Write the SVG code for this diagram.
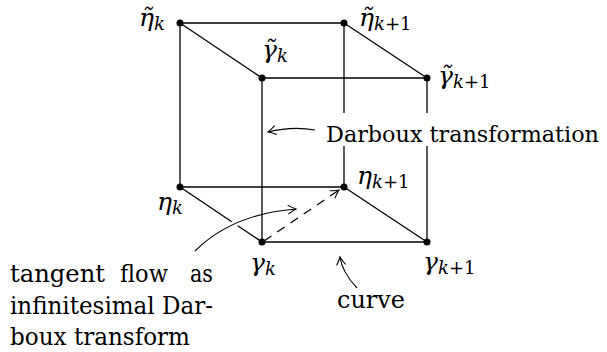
<svg xmlns="http://www.w3.org/2000/svg" width="607" height="352" viewBox="0 0 607 352">
<style>
.e{stroke:#000;stroke-width:1.3;fill:none}
.a{stroke:#000;stroke-width:1.1;fill:none}
text{fill:#000;font-family:"DejaVu Serif","Liberation Serif",serif}
.t{font-size:25px}
.m{font-style:italic;font-size:25px}
.s{font-size:18px}
.u{font-style:normal}
.d{fill:#000}
</style>
<defs>
<marker id="ah" markerWidth="12" markerHeight="12" refX="0" refY="0" viewBox="-9 -6 11 12" orient="auto" markerUnits="userSpaceOnUse">
<path d="M -8 -4.5 Q -2.5 -1 0 0 Q -2.5 1 -8 4.5" stroke="#000" stroke-width="1.1" fill="none"/>
</marker>
</defs>
<g id="connectors">
<line class="e" x1="180" y1="23" x2="344" y2="23"/>
<line class="e" x1="180" y1="23" x2="262" y2="78"/>
<line class="e" x1="344" y1="23" x2="427" y2="78"/>
<line class="e" x1="262" y1="78" x2="427" y2="78"/>
<line class="e" x1="180" y1="23" x2="180" y2="187"/>
<line class="e" x1="344" y1="23" x2="344" y2="187"/>
<line class="e" x1="427" y1="78" x2="427" y2="242"/>
<line class="e" x1="180" y1="187" x2="344" y2="187"/>
<line class="e" x1="180" y1="187" x2="262" y2="242"/>
<line class="e" x1="344" y1="187" x2="427" y2="242"/>
<line class="e" x1="262" y1="242" x2="427" y2="242"/>
<line class="e" x1="264" y1="241" x2="339" y2="190" stroke-dasharray="9 7" marker-end="url(#ah)"/>
<path d="M195 251 Q232 214 296 209" stroke="#fff" stroke-width="6" fill="none"/>
<path class="a" d="M195 251 Q232 214 296 209" marker-end="url(#ah)"/>
<line class="e" x1="262" y1="78" x2="262" y2="242"/>
<path class="a" d="M357 288 Q342 272 340 257" marker-end="url(#ah)"/>
<rect x="322" y="113" width="285" height="33" fill="#fff"/>
<path class="a" d="M315 130 Q292 126 268 132" marker-end="url(#ah)"/>
</g>
<g id="n-eta-tilde-k">
<circle class="d" cx="180" cy="23" r="3.5"/>
<text class="m" x="139" y="26">η̃<tspan class="s" dy="4">k</tspan></text>
</g>
<g id="n-eta-tilde-k1">
<circle class="d" cx="344" cy="23" r="3.5"/>
<text class="m" x="359" y="26">η̃<tspan class="s" dy="4">k<tspan class="u">+1</tspan></tspan></text>
</g>
<g id="n-gamma-tilde-k">
<circle class="d" cx="262" cy="78" r="3.5"/>
<text class="m" x="262" y="58">γ̃<tspan class="s" dy="4">k</tspan></text>
</g>
<g id="n-gamma-tilde-k1">
<circle class="d" cx="427" cy="78" r="3.5"/>
<text class="m" x="438" y="84">γ̃<tspan class="s" dy="4">k<tspan class="u">+1</tspan></tspan></text>
</g>
<g id="n-eta-k">
<circle class="d" cx="180" cy="187" r="3.5"/>
<text class="m" x="157" y="210">η<tspan class="s" dy="4">k</tspan></text>
</g>
<g id="n-eta-k1">
<circle class="d" cx="344" cy="187" r="3.5"/>
<text class="m" x="357" y="184">η<tspan class="s" dy="4">k<tspan class="u">+1</tspan></tspan></text>
</g>
<g id="n-gamma-k">
<circle class="d" cx="262" cy="242" r="3.5"/>
<text class="m" x="250" y="271">γ<tspan class="s" dy="4">k</tspan></text>
</g>
<g id="n-gamma-k1">
<circle class="d" cx="427" cy="242" r="3.5"/>
<text class="m" x="423" y="270">γ<tspan class="s" dy="4">k<tspan class="u">+1</tspan></tspan></text>
</g>
<g id="labels">
<text class="t" x="326" y="142" font-size="22.5" textLength="273" lengthAdjust="spacingAndGlyphs" style="font-size:22.5px">Darboux transformation</text>
<text class="t" x="337" y="308" textLength="68" lengthAdjust="spacingAndGlyphs">curve</text>
<text class="t" x="10" y="282" textLength="95" lengthAdjust="spacingAndGlyphs">tangent</text>
<text class="t" x="144" y="282" text-anchor="middle" textLength="48" lengthAdjust="spacingAndGlyphs">flow</text>
<text class="t" x="190" y="282" textLength="23" lengthAdjust="spacingAndGlyphs">as</text>
<text class="t" x="10" y="314" textLength="203" lengthAdjust="spacingAndGlyphs">infinitesimal Dar-</text>
<text class="t" x="10" y="345" textLength="180" lengthAdjust="spacingAndGlyphs">boux transform</text>
</g>
</svg>
